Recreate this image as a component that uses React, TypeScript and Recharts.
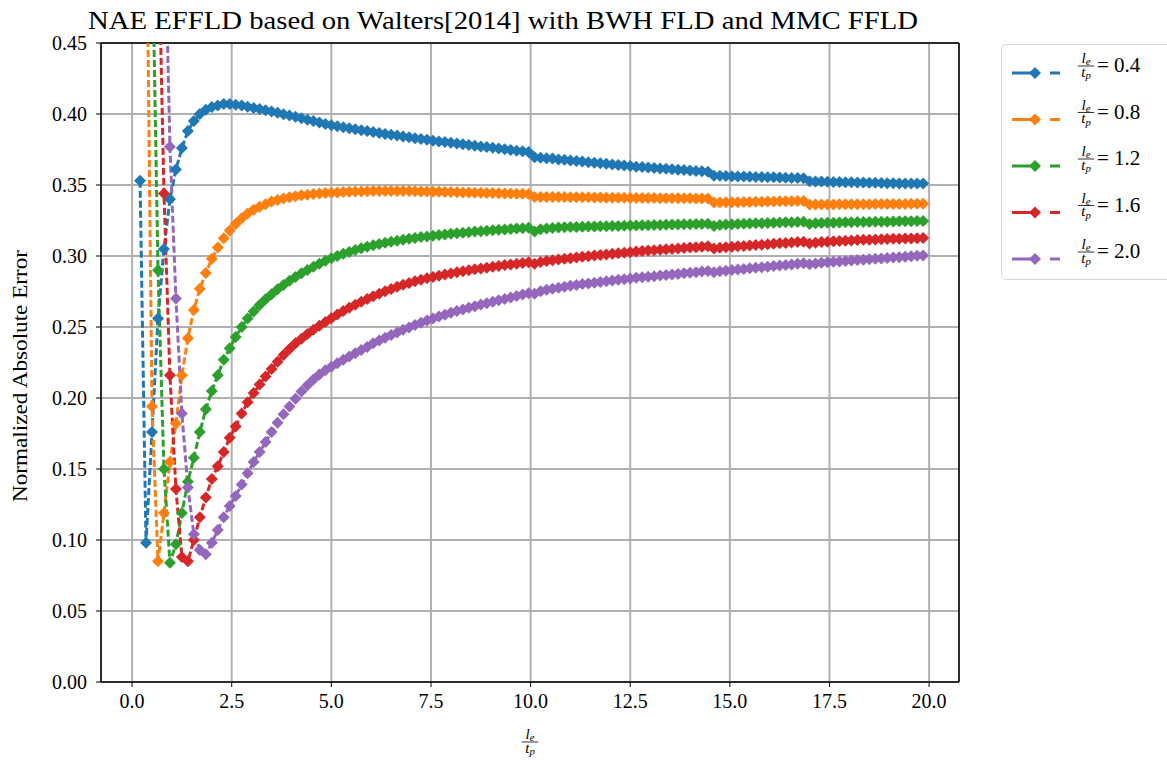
import React from "react";
import { CartesianGrid, Line, LineChart, ReferenceLine, XAxis, YAxis } from "recharts";

const FONT = "'Liberation Serif', 'DejaVu Serif', serif";

// element length / thickness sampled along the x axis
const xs = [
  0.2, 0.35, 0.5, 0.65, 0.8, 0.95, 1.1, 1.25, 1.4, 1.55,
  1.7, 1.85, 2.0, 2.15, 2.3, 2.45, 2.6, 2.75, 2.9, 3.05,
  3.2, 3.35, 3.5, 3.65, 3.8, 3.95, 4.1, 4.25, 4.4, 4.55,
  4.7, 4.85, 5.0, 5.15, 5.3, 5.45, 5.6, 5.75, 5.9, 6.05,
  6.2, 6.35, 6.5, 6.65, 6.8, 6.95, 7.1, 7.25, 7.4, 7.55,
  7.7, 7.85, 8.0, 8.15, 8.3, 8.45, 8.6, 8.75, 8.9, 9.05,
  9.2, 9.35, 9.5, 9.65, 9.8, 9.95, 10.1, 10.25, 10.4, 10.55,
  10.7, 10.85, 11.0, 11.15, 11.3, 11.45, 11.6, 11.75, 11.9, 12.05,
  12.2, 12.35, 12.5, 12.65, 12.8, 12.95, 13.1, 13.25, 13.4, 13.55,
  13.7, 13.85, 14.0, 14.15, 14.3, 14.45, 14.6, 14.75, 14.9, 15.05,
  15.2, 15.35, 15.5, 15.65, 15.8, 15.95, 16.1, 16.25, 16.4, 16.55,
  16.7, 16.85, 17.0, 17.15, 17.3, 17.45, 17.6, 17.75, 17.9, 18.05,
  18.2, 18.35, 18.5, 18.65, 18.8, 18.95, 19.1, 19.25, 19.4, 19.55,
  19.7, 19.85,
];

const nae04 = [
  0.353, 0.098, 0.176, 0.256, 0.305, 0.34, 0.361, 0.376, 0.388, 0.395,
  0.4, 0.403, 0.405, 0.406, 0.407, 0.407, 0.4066, 0.4059, 0.4051, 0.4043,
  0.4035, 0.4026, 0.4017, 0.4008, 0.3999, 0.399, 0.398, 0.397, 0.396, 0.395,
  0.394, 0.393, 0.392, 0.3913, 0.3906, 0.3899, 0.3892, 0.3886, 0.388, 0.3873,
  0.3866, 0.386, 0.3854, 0.3848, 0.3842, 0.3836, 0.383, 0.3824, 0.3818, 0.3812,
  0.3807, 0.3802, 0.3797, 0.3792, 0.3787, 0.3782, 0.3777, 0.3772, 0.3767, 0.3762,
  0.3757, 0.3752, 0.3747, 0.3742, 0.3737, 0.3732, 0.3695, 0.3692, 0.3689, 0.3686,
  0.368, 0.3677, 0.3673, 0.3669, 0.3665, 0.3661, 0.3657, 0.3653, 0.3649, 0.3645,
  0.3641, 0.3637, 0.3633, 0.3629, 0.3626, 0.3623, 0.362, 0.3617, 0.3614, 0.3611,
  0.3608, 0.3605, 0.3602, 0.3599, 0.3596, 0.3593, 0.3566, 0.3565, 0.3563, 0.3562,
  0.356, 0.3559, 0.3558, 0.3557, 0.3556, 0.3555, 0.3554, 0.3552, 0.3551, 0.355,
  0.3549, 0.3548, 0.3526, 0.3525, 0.3524, 0.3523, 0.3522, 0.3521, 0.352, 0.3519,
  0.3518, 0.3517, 0.3516, 0.3515, 0.3514, 0.3513, 0.3512, 0.3511, 0.3511, 0.351,
  0.351, 0.351,
];

const nae08 = [
  1.1, 0.58, 0.194, 0.085, 0.119, 0.155, 0.182, 0.216, 0.242, 0.262,
  0.277, 0.288, 0.298, 0.306, 0.3125, 0.318, 0.3225, 0.3265, 0.33, 0.3325,
  0.3347, 0.3365, 0.3383, 0.3395, 0.3405, 0.3414, 0.3421, 0.3427, 0.3432, 0.3436,
  0.344, 0.3443, 0.3446, 0.3448, 0.345, 0.3452, 0.3454, 0.3455, 0.3456, 0.3457,
  0.3458, 0.3458, 0.3458, 0.3458, 0.3457, 0.3457, 0.3456, 0.3455, 0.3454, 0.3453,
  0.3452, 0.3451, 0.345, 0.3449, 0.3448, 0.3447, 0.3446, 0.3445, 0.3444, 0.3443,
  0.3442, 0.3441, 0.344, 0.3439, 0.3438, 0.3437, 0.3416, 0.3416, 0.3416, 0.3415,
  0.3415, 0.3415, 0.3414, 0.3414, 0.3413, 0.3413, 0.3412, 0.3412, 0.3411, 0.3411,
  0.341, 0.341, 0.3409, 0.3409, 0.3408, 0.3408, 0.3408, 0.3407, 0.3407, 0.3407,
  0.3406, 0.3406, 0.3406, 0.3405, 0.3405, 0.3405, 0.3376, 0.3377, 0.3378, 0.3379,
  0.3379, 0.338, 0.3381, 0.3382, 0.3382, 0.3383, 0.3384, 0.3385, 0.3386, 0.3386,
  0.3387, 0.3388, 0.3362, 0.3362, 0.3363, 0.3363, 0.3363, 0.3364, 0.3364, 0.3364,
  0.3365, 0.3365, 0.3365, 0.3366, 0.3366, 0.3366, 0.3367, 0.3367, 0.3367, 0.3368,
  0.3368, 0.3368,
];

const nae12 = [
  1.6, 0.95, 0.53, 0.29, 0.15, 0.084, 0.097, 0.119, 0.141, 0.158,
  0.176, 0.192, 0.205, 0.216, 0.227, 0.235, 0.243, 0.25, 0.256, 0.261,
  0.2655, 0.2695, 0.273, 0.2765, 0.2795, 0.2825, 0.2852, 0.2878, 0.2902, 0.2925,
  0.2946, 0.2966, 0.2984, 0.3, 0.3015, 0.3029, 0.3042, 0.3054, 0.3065, 0.3075,
  0.3085, 0.3093, 0.3101, 0.3108, 0.3115, 0.3121, 0.3127, 0.3133, 0.3138, 0.3143,
  0.3148, 0.3152, 0.3156, 0.316, 0.3164, 0.3168, 0.3172, 0.3175, 0.3178, 0.3181,
  0.3184, 0.3187, 0.319, 0.3193, 0.3196, 0.3199, 0.3172, 0.3188, 0.3194, 0.3197,
  0.32, 0.3202, 0.3204, 0.3205, 0.3206, 0.3207, 0.3208, 0.3209, 0.321, 0.3211,
  0.3212, 0.3213, 0.3214, 0.3215, 0.3216, 0.3217, 0.3218, 0.3219, 0.322, 0.3221,
  0.3222, 0.3223, 0.3224, 0.3225, 0.3226, 0.3227, 0.3212, 0.3218, 0.3221, 0.3223,
  0.3225, 0.3227, 0.3228, 0.323, 0.3231, 0.3233, 0.3234, 0.3236, 0.3237, 0.3238,
  0.324, 0.3241, 0.3226, 0.3231, 0.3233, 0.3234, 0.3235, 0.3236, 0.3237, 0.3238,
  0.3239, 0.324, 0.324, 0.3241, 0.3242, 0.3242, 0.3243, 0.3244, 0.3244, 0.3245,
  0.3246, 0.3246,
];

const nae16 = [
  2.2, 1.4, 0.9, 0.54, 0.344, 0.216, 0.136, 0.088, 0.085, 0.1,
  0.116, 0.13, 0.143, 0.152, 0.162, 0.172, 0.18, 0.189, 0.197, 0.2035,
  0.2095, 0.2152, 0.2205, 0.2255, 0.2302, 0.2345, 0.2385, 0.2418, 0.245, 0.248,
  0.2508, 0.2536, 0.2562, 0.2588, 0.2612, 0.2635, 0.2657, 0.2678, 0.2698, 0.2717,
  0.2735, 0.2752, 0.2768, 0.2783, 0.2797, 0.281, 0.2822, 0.2833, 0.2843, 0.2852,
  0.2861, 0.2869, 0.2877, 0.2885, 0.2892, 0.2899, 0.2906, 0.2912, 0.2918, 0.2924,
  0.293, 0.2936, 0.2941, 0.2946, 0.2951, 0.2956, 0.2945, 0.2958, 0.2965, 0.297,
  0.2975, 0.298, 0.2985, 0.299, 0.2995, 0.2999, 0.3003, 0.3007, 0.3011, 0.3015,
  0.3019, 0.3023, 0.3027, 0.3031, 0.3035, 0.3038, 0.3041, 0.3044, 0.3047, 0.305,
  0.3053, 0.3056, 0.3059, 0.3062, 0.3065, 0.3068, 0.3052, 0.3058, 0.3062, 0.3065,
  0.3068, 0.3071, 0.3074, 0.3077, 0.308, 0.3083, 0.3086, 0.3089, 0.3092, 0.3095,
  0.3098, 0.3101, 0.3088, 0.3094, 0.3098, 0.3101, 0.3104, 0.3106, 0.3108, 0.311,
  0.3112, 0.3114, 0.3115, 0.3117, 0.3118, 0.312, 0.3121, 0.3122, 0.3123, 0.3124,
  0.3125, 0.3126,
];

const nae20 = [
  2.8, 2.0, 1.3, 0.85, 0.56, 0.377, 0.27, 0.189, 0.137, 0.104,
  0.093, 0.09, 0.098, 0.107, 0.116, 0.124, 0.131, 0.139, 0.147, 0.155,
  0.162, 0.169, 0.176, 0.1825, 0.1885, 0.194, 0.1995, 0.2045, 0.209, 0.213,
  0.2165, 0.2195, 0.222, 0.2245, 0.227, 0.2292, 0.2315, 0.2338, 0.236, 0.2385,
  0.2405, 0.2425, 0.2444, 0.2462, 0.248, 0.2497, 0.2514, 0.253, 0.2545, 0.256,
  0.2574, 0.2587, 0.26, 0.2612, 0.2624, 0.2636, 0.2647, 0.2658, 0.2668, 0.2678,
  0.2688, 0.2698, 0.2708, 0.2718, 0.2728, 0.2738, 0.2734, 0.2752, 0.2762, 0.277,
  0.2777, 0.2784, 0.279, 0.2796, 0.2802, 0.2807, 0.2812, 0.2817, 0.2822, 0.2827,
  0.2832, 0.2837, 0.2842, 0.2846, 0.285, 0.2854, 0.2858, 0.2862, 0.2866, 0.287,
  0.2874, 0.2878, 0.2882, 0.2886, 0.289, 0.2894, 0.2885, 0.2892, 0.2897, 0.2901,
  0.2905, 0.2909, 0.2913, 0.2917, 0.2921, 0.2925, 0.2929, 0.2933, 0.2937, 0.2941,
  0.2945, 0.2949, 0.2942, 0.2948, 0.2952, 0.2956, 0.2959, 0.2962, 0.2965, 0.2968,
  0.2971, 0.2974, 0.2977, 0.298, 0.2983, 0.2986, 0.2989, 0.2992, 0.2995, 0.2998,
  0.3001, 0.3003,
];

const xTicks = [0, 2.5, 5, 7.5, 10, 12.5, 15, 17.5, 20];
const yTicks = [0, 0.05, 0.1, 0.15, 0.2, 0.25, 0.3, 0.35, 0.4, 0.45];

const series = [
  { key: "r04", ratio: "0.4", color: "#1f77b4", values: nae04 },
  { key: "r08", ratio: "0.8", color: "#ff7f0e", values: nae08 },
  { key: "r12", ratio: "1.2", color: "#2ca02c", values: nae12 },
  { key: "r16", ratio: "1.6", color: "#d62728", values: nae16 },
  { key: "r20", ratio: "2.0", color: "#9467bd", values: nae20 },
];

const rows = xs.map((x, i) => {
  const row: Record<string, number> = { x };
  series.forEach((s) => (row[s.key] = s.values[i]));
  return row;
});

const MARK = 6;

const diamondPath = (cx: number, cy: number, r: number) =>
  `M${cx},${cy - r}L${cx + r},${cy}L${cx},${cy + r}L${cx - r},${cy}Z`;

const makeDot = (color: string) => (props: any) => {
  const { cx, cy, index } = props;
  if (cx == null || cy == null) return <g key={`n-${index}`} />;
  return <path key={`d-${index}`} d={diamondPath(cx, cy, MARK)} fill={color} />;
};

// l_e over t_p, drawn as a stacked fraction
function Frac({ cx, barY, size }: { cx: number; barY: number; size: number }) {
  const sub = size * 0.72;
  return (
    <g fontFamily={FONT} fontStyle="italic" fill="#000">
      <text x={cx} y={barY - 3} textAnchor="middle" fontSize={size}>
        l
        <tspan fontSize={sub} dy={size * 0.15}>e</tspan>
      </text>
      <line x1={cx - size * 0.55} x2={cx + size * 0.55} y1={barY} y2={barY} stroke="#000" strokeWidth={0.8} />
      <text x={cx} y={barY + size * 0.72} textAnchor="middle" fontSize={size}>
        t
        <tspan fontSize={sub} dy={size * 0.15}>p</tspan>
      </text>
    </g>
  );
}

const XLabel = () => <Frac cx={530} barY={742} size={15} />;

const YLabel = () => (
  <text
    x={20}
    y={376}
    transform="rotate(-90 20 376)"
    textAnchor="middle"
    dominantBaseline="central"
    fontFamily={FONT}
    fontSize={20}
    textLength={252}
    lengthAdjust="spacingAndGlyphs"
    fill="#000"
  >
    Normalized Absolute Error
  </text>
);

function LegendBox() {
  return (
    <div
      style={{
        position: "absolute",
        left: 1001,
        top: 44,
        width: 200,
        height: 236,
        border: "1px solid #d6d6d6",
        borderRadius: 5,
        background: "rgba(255,255,255,0.8)",
        boxSizing: "border-box",
      }}
    >
      <svg width={200} height={236} style={{ position: "absolute", left: -1, top: -1 }}>
        {series.map((s, i) => {
          const y = 29 + i * 46.5;
          return (
            <g key={s.key}>
              <line x1={11} x2={59} y1={y} y2={y} stroke={s.color} strokeWidth={3} strokeDasharray="24 14 10" />
              <path d={diamondPath(34, y, MARK)} fill={s.color} />
              <Frac cx={85} barY={y - 7} size={15} />
              <text x={96} y={y - 1} fontFamily={FONT} fontSize={21} fill="#000">
                {`= ${s.ratio}`}
              </text>
            </g>
          );
        })}
      </svg>
    </div>
  );
}

export default function App() {
  return (
    <div style={{ position: "absolute", left: 0, top: 0, width: 1167, height: 765, overflow: "hidden", background: "#fff" }}>
      <svg width={1167} height={40} style={{ position: "absolute", left: 0, top: 0 }}>
        <text
          x={503}
          y={29}
          textAnchor="middle"
          fontFamily={FONT}
          fontSize={25}
          textLength={830}
          lengthAdjust="spacingAndGlyphs"
          fill="#000"
        >
          NAE EFFLD based on Walters[2014] with BWH FLD and MMC FFLD
        </text>
      </svg>
      <LineChart width={1167} height={765} data={rows} margin={{ top: 43, right: 208, bottom: 0, left: 0 }}>
        <CartesianGrid stroke="#b0b0b0" strokeWidth={2} />
        <XAxis
          dataKey="x"
          type="number"
          domain={[-0.78, 20.75]}
          ticks={xTicks}
          allowDataOverflow
          height={83}
          tickSize={5}
          tickMargin={7}
          tickFormatter={(v: number) => v.toFixed(1)}
          tick={{ fill: "#000", fontSize: 20, fontFamily: FONT }}
          tickLine={{ stroke: "#000" }}
          axisLine={{ stroke: "#000", strokeWidth: 1.5 }}
          label={<XLabel />}
        />
        <YAxis
          type="number"
          domain={[0, 0.45]}
          ticks={yTicks}
          allowDataOverflow
          width={101}
          tickSize={5}
          tickMargin={9}
          tickFormatter={(v: number) => v.toFixed(2)}
          tick={{ fill: "#000", fontSize: 20, fontFamily: FONT }}
          tickLine={{ stroke: "#000" }}
          axisLine={{ stroke: "#000", strokeWidth: 1.5 }}
          label={<YLabel />}
        />
        <ReferenceLine y={0.45} stroke="#000" strokeWidth={1.5} />
        <ReferenceLine x={20.75} stroke="#000" strokeWidth={1.5} />
        {series.map((s) => (
          <Line
            key={s.key}
            type="linear"
            dataKey={s.key}
            stroke={s.color}
            strokeWidth={3}
            strokeDasharray="7 3"
            dot={makeDot(s.color)}
            activeDot={false}
            isAnimationActive={false}
          />
        ))}
      </LineChart>
      <LegendBox />
    </div>
  );
}
